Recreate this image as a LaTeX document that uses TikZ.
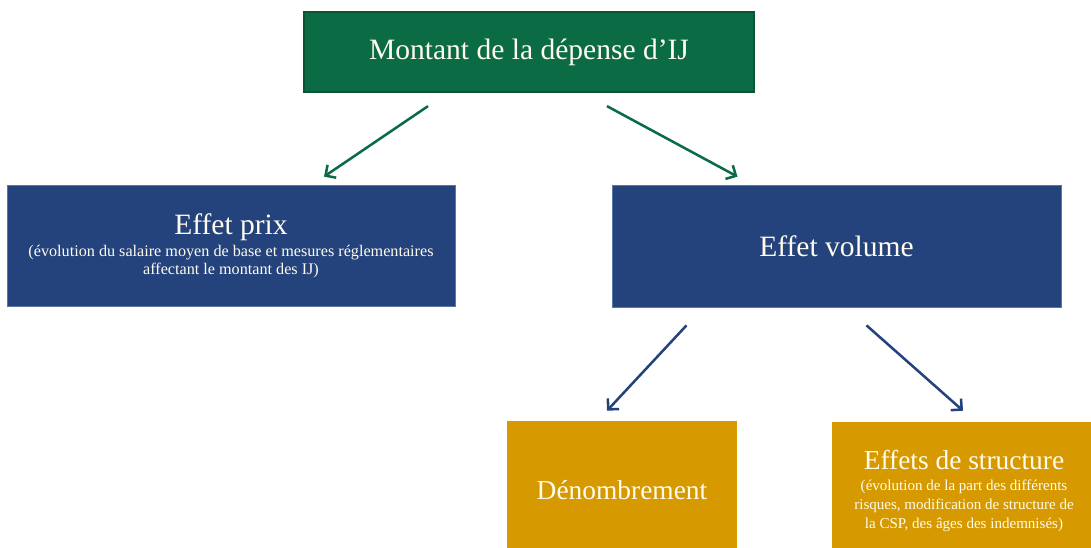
\documentclass[tikz,border=0pt]{standalone}
\usepackage{fontspec}
\setmainfont{Liberation Serif}
\usepackage{tikz}
\usetikzlibrary{calc}
\usetikzlibrary{arrows.meta}
\usetikzlibrary{positioning}

\definecolor{ijgreen}{HTML}{0B6B45}
\definecolor{ijgreendark}{HTML}{0A5434}
\definecolor{ijblue}{HTML}{24427C}
\definecolor{ijblueline}{HTML}{5A76A6}
\definecolor{ijgold}{HTML}{D69A00}
\definecolor{ijtext}{HTML}{FFFCEE}

\tikzset{
  box/.style={rectangle, inner sep=0pt, align=center, text=ijtext},
  greenbox/.style={box, fill=ijgreen, draw=ijgreendark, line width=1.6pt},
  bluebox/.style={box, fill=ijblue, draw=ijblueline, line width=0.5pt},
  goldbox/.style={box, fill=ijgold},
  garrow/.style={-{Straight Barb[length=5.5pt,width=11pt]}, draw=ijgreen, line width=1.8pt},
  barrow/.style={-{Straight Barb[length=5.5pt,width=11pt]}, draw=ijblue, line width=1.8pt},
}
\newcommand{\bigtitle}{\fontsize{21}{24}\selectfont}
\newcommand{\midtitle}{\fontsize{19.5}{22}\selectfont}

\begin{document}
\begin{tikzpicture}[x=0.025cm, y=-0.025cm]
\useasboundingbox (0,0) rectangle (1091,547);
\clip (0,0) rectangle (1091,547);

\node [greenbox, minimum width=11.25cm, minimum height=2cm, font=\bigtitle] (montant) at (529,52) {Montant de la dépense d’IJ};

\node [bluebox, minimum width=11.2cm, minimum height=3.025cm, font=\fontsize{11.5}{12.7}\selectfont] (prix) at (231,245.5)
  {{\bigtitle Effet prix}\\[3pt]
   (évolution du salaire moyen de base et mesures réglementaires\\
   affectant le montant des IJ)};
\node [bluebox, minimum width=11.225cm, minimum height=3.05cm, font=\bigtitle] (volume) at (836.5,246) {Effet volume};

\node [goldbox, minimum width=5.75cm, minimum height=3.45cm, font=\midtitle] (denomb) at (622,490) {Dénombrement};
\node [goldbox, minimum width=6.6cm, minimum height=3.45cm, font=\fontsize{10.7}{13.6}\selectfont] (struct) at (964,491)
  {{\midtitle Effets de structure}\\[1pt]
   (évolution de la part des différents\\
   risques, modification de structure de\\
   la CSP, des âges des indemnisés)};

% top level split
\draw [garrow] ($(montant.south)+(-101,13)$) to ($(prix.north)+(93,-8)$);
\draw [garrow] ($(montant.south)+(78,13)$) to ($(volume.north)+(-99,-8)$);
% volume split
\draw [barrow] ($(volume.south)+(-150,18)$) to ($(denomb.north)+(-15,-10)$);
\draw [barrow] ($(volume.south)+(30,18)$) to ($(struct.north)+(-1,-11)$);
\end{tikzpicture}
\end{document}
